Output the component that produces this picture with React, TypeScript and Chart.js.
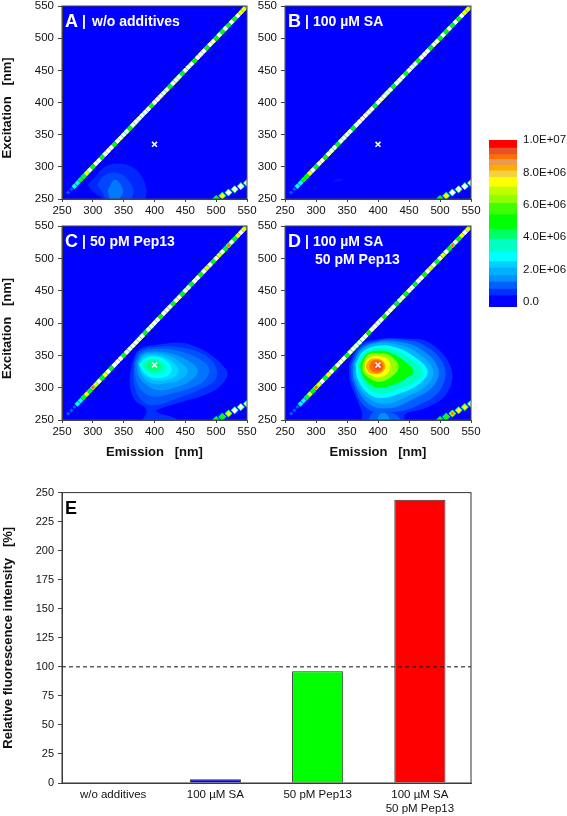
import { useEffect, useRef } from "react";
import { Chart, registerables } from "chart.js";
Chart.register(...registerables);

const FONT = "'Liberation Sans', Arial, sans-serif";
const INK = "#111111";
const FRAME = "#444444";

// ---- colour scale (colour bar bands) ----
const colorbarEdges = [-307000, 400000, 800000, 1250000, 1650000, 2100000, 2500000, 3100000, 3900000, 4500000, 5400000, 6100000, 6600000, 7100000, 7700000, 8100000, 8450000, 8800000, 9100000, 9500000, 10000000];
const colorbarColors = ["#0000ff", "#0030ff", "#0060ff", "#0090ff", "#00b0ff", "#00d0ff", "#00ffff", "#00ffc0", "#00ff60", "#00ff00", "#40ff00", "#90ff00", "#c0ff00", "#ffff00", "#f5d040", "#ffaa00", "#e89a50", "#ff7000", "#e8502a", "#ff0000"];
const colorbarTicks = [0, 2000000, 4000000, 6000000, 8000000, 10000000];
const colorbarTickLabels = ["0.0", "2.0E+06", "4.0E+06", "6.0E+06", "8.0E+06", "1.0E+07"];

function hexToRgb(h: string) {
  return [parseInt(h.slice(1, 3), 16), parseInt(h.slice(3, 5), 16), parseInt(h.slice(5, 7), 16)];
}
function levelColor(v: number) {
  const mids = colorbarColors.map((_, i) => (colorbarEdges[i] + colorbarEdges[i + 1]) / 2);
  if (v <= mids[0]) return colorbarColors[0];
  for (let i = 1; i < mids.length; i++) {
    if (v <= mids[i]) {
      const t = (v - mids[i - 1]) / (mids[i] - mids[i - 1]);
      const a = hexToRgb(colorbarColors[i - 1]);
      const b = hexToRgb(colorbarColors[i]);
      return `rgb(${a.map((c, k) => Math.round(c + (b[k] - c) * t)).join(",")})`;
    }
  }
  return colorbarColors[colorbarColors.length - 1];
}

// ---- contour outlines, [emission, excitation] in nm; outermost first ----
const levelsA = [500000, 800000, 1250000];
const contoursA = [
  [[291, 272], [304, 285], [317, 298], [336, 305], [363, 300], [379, 285], [387, 264], [385, 250], [385, 240], [317, 240], [317, 250], [301, 261]],
  [[307, 272], [317, 285], [336, 291], [355, 282], [366, 264], [363, 250], [363, 240], [328, 240], [315, 261]],
  [[324, 264], [336, 280], [349, 264], [344, 250], [344, 240], [330, 240], [327, 252]],
];
const levelsB = [300000];
const contoursB = [
  [[327, 278], [336, 282], [344, 280], [336, 277]],
];
const levelsC = [600000, 900000, 1200000, 1600000, 2000000, 2400000, 2800000, 3200000, 3600000, 4000000];
const contoursC = [
  [[363, 338], [374, 358], [400, 366], [460, 366], [517, 327], [508, 304], [482, 289], [444, 278], [417, 270], [403, 263], [438, 250], [438, 235], [374, 235], [387, 265], [368, 281], [360, 307]],
  [[366, 338], [376, 357], [401, 363], [444, 362], [482, 350], [500, 330], [498, 312], [471, 296], [438, 284], [403, 273], [382, 278], [368, 301]],
  [[368, 338], [378, 354], [401, 360], [438, 357], [471, 345], [488, 330], [482, 312], [457, 299], [428, 291], [398, 286], [379, 296], [369, 317]],
  [[371, 338], [380, 352], [401, 356], [430, 352], [457, 340], [470, 327], [460, 312], [436, 301], [406, 296], [387, 304], [374, 319]],
  [[373, 338], [382, 350], [401, 353], [425, 349], [447, 335], [454, 325], [441, 312], [420, 307], [398, 306], [383, 314]],
  [[374, 336], [383, 348], [401, 350], [420, 345], [437, 332], [438, 322], [425, 313], [403, 311], [387, 317], [378, 325]],
  [[375, 335], [385, 345], [401, 348], [417, 343], [428, 330], [422, 319], [403, 315], [387, 320]],
  [[378, 335], [387, 344], [401, 345], [414, 340], [420, 331], [414, 323], [401, 319], [387, 325]],
  [[382, 334], [390, 342], [401, 343], [410, 339], [416, 331], [409, 325], [398, 323], [387, 327]],
  [[386, 333], [393, 340], [401, 341], [409, 336], [410, 330], [401, 326], [391, 328]],
];
const levelsD = [600000, 1000000, 1000000, 1450000, 1450000, 1900000, 2800000, 3500000, 5000000, 6400000, 7400000, 8300000, 9000000, 9300000];
const contoursD = [
  [[353, 335], [369, 365], [400, 375], [444, 376], [484, 369], [518, 330], [511, 291], [476, 268], [444, 259], [441, 242], [376, 242], [374, 262], [355, 309]],
  [[382, 242], [392, 262], [412, 262], [430, 258], [437, 242]],
  [[356, 335], [371, 362], [400, 373], [438, 374], [476, 365], [507, 333], [500, 296], [465, 273], [422, 262], [382, 268], [359, 309]],
  [[397, 242], [403, 259], [414, 259], [419, 242]],
  [[359, 337], [373, 360], [400, 371], [433, 371], [468, 360], [497, 330], [489, 302], [454, 281], [417, 268], [384, 276], [362, 309]],
  [[362, 337], [374, 358], [400, 369], [430, 367], [462, 355], [489, 327], [479, 304], [446, 286], [411, 275], [384, 284], [364, 312]],
  [[364, 337], [376, 356], [400, 365], [427, 363], [457, 349], [480, 326], [468, 307], [438, 292], [406, 284], [384, 291], [367, 314]],
  [[367, 337], [380, 355], [400, 361], [425, 358], [452, 345], [472, 325], [460, 309], [433, 298], [403, 291], [384, 299], [371, 317]],
  [[371, 337], [383, 353], [400, 357], [422, 353], [444, 340], [457, 325], [446, 315], [425, 305], [400, 300], [384, 308], [374, 322]],
  [[375, 337], [384, 351], [400, 353], [417, 351], [430, 340], [433, 330], [422, 317], [403, 309], [387, 314], [376, 325]],
  [[379, 340], [387, 347], [400, 349], [414, 345], [420, 335], [417, 324], [403, 316], [389, 319], [380, 327]],
  [[380, 333], [385, 342], [396, 345], [407, 342], [412, 333], [407, 324], [396, 321], [385, 324]],
  [[386, 333], [389, 340], [398, 343], [406, 340], [409, 333], [406, 326], [398, 323], [389, 326]],
  [[393, 333], [395, 337], [400, 339], [405, 337], [406, 333], [405, 329], [400, 327], [395, 329]],
];

// ---- Rayleigh scatter lines: peak intensity per measured point ----
const rayleighEmission = [255, 260, 265, 270, 275, 280, 285, 290, 295, 300, 305, 310, 315, 320, 325, 330, 335, 340, 345, 350, 355, 360, 365, 370, 375, 380, 385, 390, 395, 400, 405, 410, 415, 420, 425, 430, 435, 440, 445, 450, 455, 460, 465, 470, 475, 480, 485, 490, 495, 500, 505, 510, 515, 520, 525, 530, 535, 540, 545, 550];
const rayleighPeakAB = [500000, 1500000, 2000000, 2900000, 4000000, 5500000, 7000000, 9000000, 12000000, 6000000, 12000000, 12000000, 6000000, 12000000, 12000000, 12000000, 6000000, 12000000, 12000000, 12000000, 12000000, 6000000, 12000000, 12000000, 12000000, 12000000, 12000000, 12000000, 6000000, 12000000, 12000000, 12000000, 12000000, 12000000, 6000000, 12000000, 12000000, 12000000, 6000000, 12000000, 12000000, 12000000, 6000000, 12000000, 12000000, 12000000, 6000000, 12000000, 12000000, 6000000, 12000000, 6000000, 12000000, 6000000, 12000000, 6000000, 12000000, 8500000, 9000000, 9600000];
const rayleighPeakCD = [500000, 1000000, 1800000, 2500000, 3200000, 4500000, 6000000, 8500000, 6000000, 9600000, 8500000, 12000000, 6000000, 9000000, 12000000, 6000000, 12000000, 12000000, 12000000, 6000000, 12000000, 12000000, 12000000, 12000000, 12000000, 12000000, 6000000, 12000000, 12000000, 12000000, 12000000, 6000000, 12000000, 12000000, 12000000, 6000000, 12000000, 12000000, 6000000, 12000000, 12000000, 6000000, 12000000, 12000000, 6000000, 12000000, 9000000, 12000000, 6000000, 12000000, 9000000, 12000000, 6000000, 9600000, 12000000, 6000000, 9000000, 12000000, 9000000, 9600000];
const secondOrderEmission = [500, 510, 520, 530, 540, 550];
const secondOrderExcitation = [250, 255, 260, 265, 270, 275];
const secondOrderPeakA = [7000000, 9000000, 12000000, 12000000, 12000000, 12000000];
const secondOrderPeakB = [6000000, 9000000, 12000000, 12000000, 12000000, 12000000];
const secondOrderPeakC = [6000000, 7000000, 9000000, 12000000, 12000000, 12000000];
const secondOrderPeakD = [5000000, 6000000, 9600000, 9000000, 8500000, 12000000];
const peakThresholds = [800000, 2800000, 5000000, 7500000, 9400000, 10500000];
const peakColors = ["#0060ff", "#00ffff", "#00ff00", "#ffff00", "#ff7000", "#ffffff"];
const rayleighRadii = [2.0, 2.9, 2.9, 2.7, 2.1, 2.7];
const secondOrderRadii = [4.0, 3.8, 3.4, 2.9, 2.0, 3.0];

// ---- marker at the analysed wavelength pair ----
const markerEmission = [400];
const markerExcitation = [335];

// ---- bar chart ----
const barCategories = ["w/o additives", "100 µM SA", "50 pM Pep13", ["100 µM SA", "50 pM Pep13"]];
const barValues = [0, 3.2, 96.2, 243.8];
const barColors = ["#0000ff", "#0000ff", "#00ff00", "#ff0000"];
const referenceLevel = [100];

const axisTicks = [250, 300, 350, 400, 450, 500, 550];

type Rect = { l: number; t: number; r: number; b: number };

const frame = (color = FRAME) => ({
  id: "frame",
  afterDraw(chart: any) {
    const { left, top, width, height } = chart.chartArea;
    const c = chart.ctx;
    c.save();
    c.strokeStyle = color;
    c.lineWidth = 1;
    c.strokeRect(left, top, width, height);
    c.restore();
  },
});

const labelPlugin = (letter: string, lines: string[], color: string, textDx: number) => ({
  id: "panelLabel",
  afterDraw(chart: any) {
    const { left, top } = chart.chartArea;
    const c = chart.ctx;
    c.save();
    c.fillStyle = color;
    c.textBaseline = "alphabetic";
    c.textAlign = "left";
    c.font = `bold 18px ${FONT}`;
    c.fillText(letter, left + 3, top + 21);
    if (lines.length) {
      c.font = `bold 14px ${FONT}`;
      c.fillText("|", left + 20, top + 20);
      lines.forEach((s, i) => c.fillText(s, left + textDx + (i ? 2 : 0), top + 20 + i * 18));
    }
    c.restore();
  },
});

function panelConfig(o: {
  rect: Rect; mL: number; mB: number; yTitle: boolean; xTitle: boolean;
  levels: number[]; contours: number[][][]; rayleigh: number[]; second: number[];
  letter: string; lines: string[]; textDx: number;
}) {
  const datasets: any[] = [];
  o.contours.forEach((poly, i) => {
    const closed = [...poly, poly[0]];
    datasets.push({
      type: "scatter", label: `contour ${i}`, showLine: true, fill: "shape", tension: 0.4,
      data: closed.map(([x, y]) => ({ x, y })),
      backgroundColor: levelColor(o.levels[i]), borderWidth: 0, pointRadius: 0,
    });
  });
  peakThresholds.forEach((th, k) => {
    datasets.push({
      type: "scatter", label: `rayleigh ${k}`,
      data: rayleighEmission.map((e, i) => ({ x: e, y: e, p: o.rayleigh[i] })).filter((d) => d.p >= th),
      pointStyle: "rectRot", pointRadius: rayleighRadii[k], backgroundColor: peakColors[k], borderWidth: 0,
    });
    datasets.push({
      type: "scatter", label: `second order ${k}`,
      data: secondOrderEmission.map((e, i) => ({ x: e, y: secondOrderExcitation[i], p: o.second[i] })).filter((d) => d.p >= th),
      pointStyle: "rectRot", pointRadius: secondOrderRadii[k], backgroundColor: peakColors[k], borderWidth: 0,
    });
  });
  datasets.push({
    type: "scatter", label: "marker",
    data: markerEmission.map((x, i) => ({ x, y: markerExcitation[i] })),
    pointStyle: "crossRot", pointRadius: 3.5, borderColor: "#ffffff", borderWidth: 1.6, backgroundColor: "#ffffff",
  });
  datasets.forEach((d, i) => (d.order = datasets.length - i));
  const tickFont = { family: FONT, size: 11.5 };
  const titleFont = { family: FONT, size: 13, weight: "bold" as const };
  return {
    type: "scatter",
    data: { datasets },
    options: {
      responsive: false, animation: false,
      layout: { padding: { left: 0, top: 16, right: 16, bottom: 0 } },
      plugins: { legend: { display: false }, tooltip: { enabled: false } },
      elements: { point: { hoverRadius: 0 } },
      scales: {
        x: {
          type: "linear", min: 250, max: 550,
          afterBuildTicks: (s: any) => { s.ticks = axisTicks.map((value) => ({ value })); },
          afterFit: (s: any) => { s.height = o.mB; },
          ticks: { font: tickFont, color: INK, padding: 2, maxRotation: 0, autoSkip: false },
          grid: { drawOnChartArea: false, tickLength: 3, color: FRAME },
          border: { color: FRAME },
          title: { display: o.xTitle, text: "Emission   [nm]", font: titleFont, color: INK, padding: 0 },
        },
        y: {
          type: "linear", min: 250, max: 550,
          afterBuildTicks: (s: any) => { s.ticks = axisTicks.map((value) => ({ value })); },
          afterFit: (s: any) => { s.width = o.mL; },
          ticks: { font: tickFont, color: INK, padding: 4, autoSkip: false },
          grid: { drawOnChartArea: false, tickLength: 4, color: FRAME },
          border: { color: FRAME },
          title: { display: o.yTitle, text: "Excitation   [nm]   ", font: titleFont, color: INK, padding: 0 },
        },
      },
    },
    plugins: [
      { id: "bg", beforeDraw(chart: any) { const { left, top, width, height } = chart.chartArea; chart.ctx.save(); chart.ctx.fillStyle = "#0000ff"; chart.ctx.fillRect(left, top, width, height); chart.ctx.restore(); } },
      frame(),
      labelPlugin(o.letter, o.lines, "#ffffff", o.textDx),
    ],
  };
}

function colorbarConfig() {
  const datasets = colorbarColors.map((c, i) => ({
    label: `band ${i}`, data: [[colorbarEdges[i], colorbarEdges[i + 1]]],
    backgroundColor: c, borderWidth: 0, barPercentage: 1, categoryPercentage: 1, grouped: false,
  }));
  return {
    type: "bar",
    data: { labels: ["scale"], datasets },
    options: {
      responsive: false, animation: false,
      layout: { padding: { left: 9, top: 15, right: 0, bottom: 12 } },
      plugins: { legend: { display: false }, tooltip: { enabled: false } },
      scales: {
        x: { display: false },
        y: {
          position: "right", min: colorbarEdges[0], max: 10000000,
          afterBuildTicks: (s: any) => { s.ticks = colorbarTicks.map((value) => ({ value })); },
          afterFit: (s: any) => { s.width = 50; },
          ticks: {
            font: { family: FONT, size: 11.5 }, color: INK, padding: 6, autoSkip: false,
            callback: (v: number) => colorbarTickLabels[colorbarTicks.indexOf(v)],
          },
          grid: { display: false, drawTicks: false }, border: { display: false },
        },
      },
    },
  };
}

function barConfig() {
  return {
    type: "bar",
    data: {
      labels: barCategories,
      datasets: [{
        label: "Relative fluorescence intensity",
        data: barValues, backgroundColor: barColors, borderColor: "#333333", borderWidth: 1,
        barPercentage: 0.5, categoryPercentage: 1,
      }],
    },
    options: {
      responsive: false, animation: false,
      layout: { padding: { left: 0, top: 10, right: 16, bottom: 0 } },
      plugins: { legend: { display: false }, tooltip: { enabled: false } },
      scales: {
        x: {
          afterFit: (s: any) => { s.height = 33; },
          ticks: { font: { family: FONT, size: 11.5 }, color: INK, padding: 5, maxRotation: 0, autoSkip: false },
          grid: { display: false, drawTicks: false }, border: { color: FRAME },
        },
        y: {
          min: 0, max: 250,
          afterFit: (s: any) => { s.width = 62; },
          ticks: { stepSize: 25, font: { family: FONT, size: 11 }, color: INK, padding: 4, autoSkip: false },
          grid: { drawOnChartArea: false, tickLength: 4, color: FRAME }, border: { color: FRAME },
          title: { display: true, text: "Relative fluorescence intensity   [%]", font: { family: FONT, size: 13, weight: "bold" }, color: INK, padding: 1 },
        },
      },
    },
    plugins: [
      {
        id: "referenceLine",
        afterDatasetsDraw(chart: any) {
          const { left, right } = chart.chartArea;
          const y = chart.scales.y.getPixelForValue(referenceLevel[0]);
          const c = chart.ctx;
          c.save();
          c.strokeStyle = "#111111";
          c.lineWidth = 1;
          c.setLineDash([4, 3]);
          c.beginPath();
          c.moveTo(left, y);
          c.lineTo(right, y);
          c.stroke();
          c.restore();
        },
      },
      frame("#333333"),
      labelPlugin("E", [], "#000000", 0),
    ],
  };
}

const PANELS = [
  { box: { left: 0, top: -10, width: 263, height: 229 }, cfg: () => panelConfig({ rect: { l: 62, t: 6, r: 247, b: 199 }, mL: 62, mB: 20, yTitle: true, xTitle: false, levels: levelsA, contours: contoursA, rayleigh: rayleighPeakAB, second: secondOrderPeakA, letter: "A", lines: ["w/o additives"], textDx: 30 }) },
  { box: { left: 255, top: -10, width: 232, height: 229 }, cfg: () => panelConfig({ rect: { l: 285, t: 6, r: 471, b: 199 }, mL: 30, mB: 20, yTitle: false, xTitle: false, levels: levelsB, contours: contoursB, rayleigh: rayleighPeakAB, second: secondOrderPeakB, letter: "B", lines: ["100 µM SA"], textDx: 28 }) },
  { box: { left: 0, top: 210, width: 263, height: 250 }, cfg: () => panelConfig({ rect: { l: 62, t: 226, r: 247, b: 420 }, mL: 62, mB: 40, yTitle: true, xTitle: true, levels: levelsC, contours: contoursC, rayleigh: rayleighPeakCD, second: secondOrderPeakC, letter: "C", lines: ["50 pM Pep13"], textDx: 28 }) },
  { box: { left: 255, top: 210, width: 232, height: 250 }, cfg: () => panelConfig({ rect: { l: 285, t: 226, r: 471, b: 420 }, mL: 30, mB: 40, yTitle: false, xTitle: true, levels: levelsD, contours: contoursD, rayleigh: rayleighPeakCD, second: secondOrderPeakD, letter: "D", lines: ["100 µM SA", "50 pM Pep13"], textDx: 28 }) },
  { box: { left: 480, top: 125, width: 87, height: 195 }, cfg: colorbarConfig },
  { box: { left: 0, top: 482, width: 487, height: 334 }, cfg: barConfig },
];

function Panel({ box, cfg }: { box: { left: number; top: number; width: number; height: number }; cfg: () => any }) {
  const ref = useRef<HTMLCanvasElement | null>(null);
  useEffect(() => {
    const chart = new Chart(ref.current as HTMLCanvasElement, cfg());
    return () => chart.destroy();
  }, [cfg]);
  return (
    <canvas
      ref={ref}
      width={box.width}
      height={box.height}
      style={{ position: "absolute", left: box.left, top: box.top, width: box.width, height: box.height }}
    />
  );
}

export default function App() {
  return (
    <div style={{ position: "absolute", left: 0, top: 0, width: 567, height: 816, overflow: "hidden", background: "#ffffff" }}>
      {PANELS.map((p, i) => (
        <Panel key={i} box={p.box} cfg={p.cfg} />
      ))}
    </div>
  );
}
